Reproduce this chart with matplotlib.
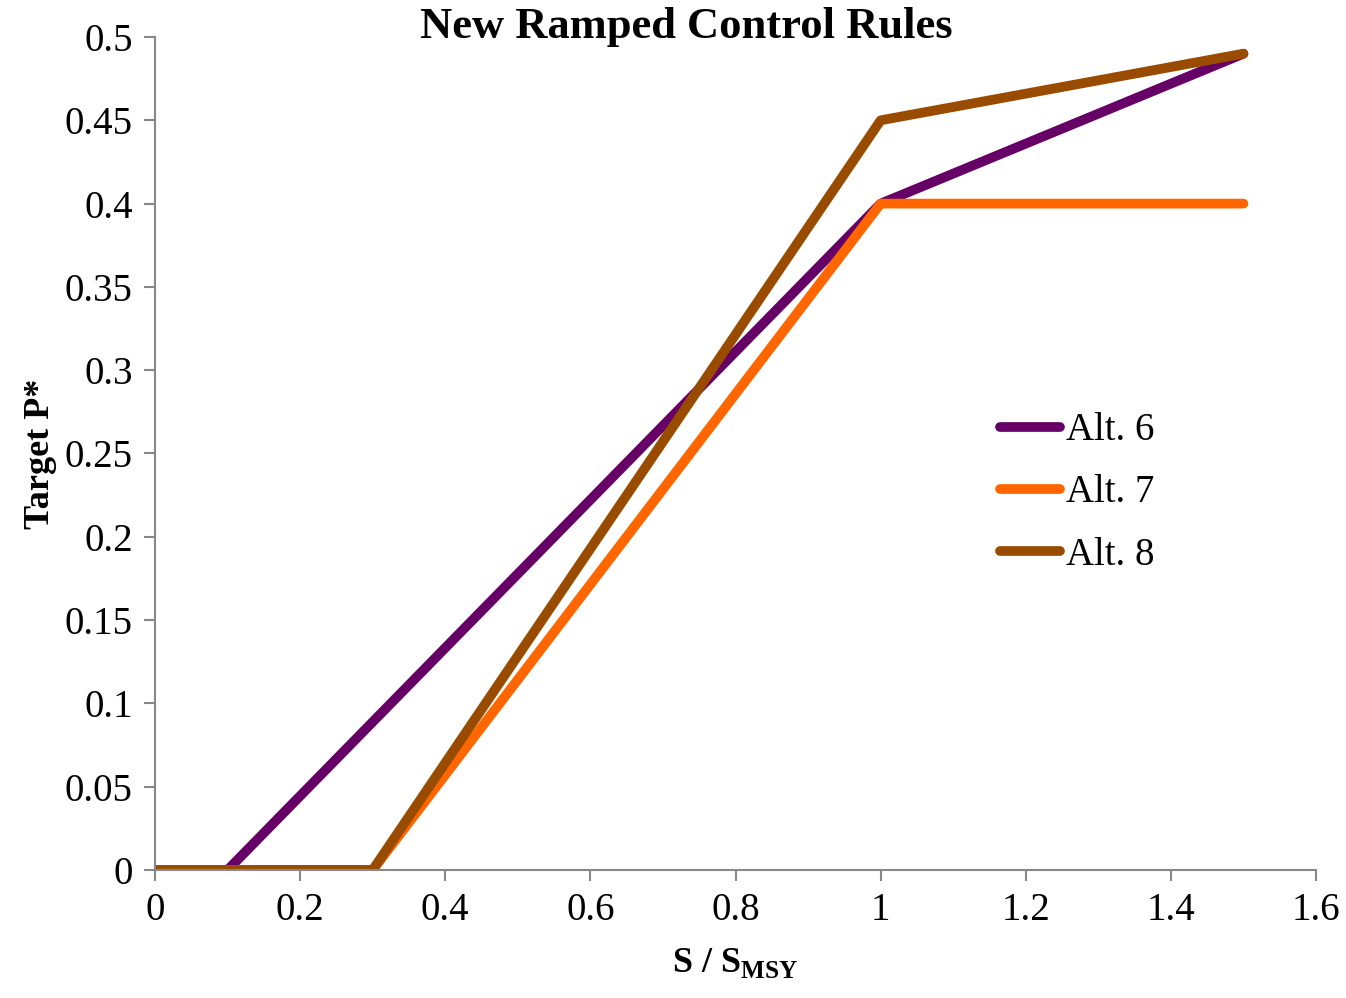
import matplotlib
matplotlib.use('Agg')
import matplotlib.pyplot as plt

plt.rcParams['font.family'] = ['Liberation Serif', 'DejaVu Serif']
plt.rcParams['mathtext.fontset'] = 'custom'
plt.rcParams['mathtext.rm'] = 'Liberation Serif'
plt.rcParams['mathtext.bf'] = 'Liberation Serif:bold'

# data
x6 = [0, 0.1, 1.0, 1.5]
y6 = [0, 0, 0.40, 0.49]
x7 = [0, 0.3, 1.0, 1.5]
y7 = [0, 0, 0.40, 0.40]
x8 = [0, 0.3, 1.0, 1.5]
y8 = [0, 0, 0.45, 0.49]
labels = ['Alt. 6', 'Alt. 7', 'Alt. 8']
colors = ['#660066', '#FF6600', '#994C00']

fig = plt.figure(figsize=(13.46, 9.98), dpi=100)
ax = fig.add_axes([0.1152, 0.1283, 0.8625, 0.8346])
lw = 7.0
ax.plot(x6, y6, color=colors[0], lw=lw, label=labels[0], solid_capstyle='round')
ax.plot(x7, y7, color=colors[1], lw=lw, label=labels[1], solid_capstyle='round')
ax.plot(x8, y8, color=colors[2], lw=lw, label=labels[2], solid_capstyle='round')

ax.set_xlim(0, 1.6)
ax.set_ylim(0, 0.5)
ax.set_xticks([0, 0.2, 0.4, 0.6, 0.8, 1.0, 1.2, 1.4, 1.6])
ax.set_xticklabels(['0', '0.2', '0.4', '0.6', '0.8', '1', '1.2', '1.4', '1.6'])
ax.set_yticks([0, 0.05, 0.1, 0.15, 0.2, 0.25, 0.3, 0.35, 0.4, 0.45, 0.5])
ax.set_yticklabels(['0', '0.05', '0.1', '0.15', '0.2', '0.25', '0.3', '0.35', '0.4', '0.45', '0.5'])
for s in ['top', 'right']:
    ax.spines[s].set_visible(False)
for s in ['left', 'bottom']:
    ax.spines[s].set_color('#888888')
    ax.spines[s].set_linewidth(1.5)
ax.tick_params(direction='out', length=8, width=1.5, color='#888888', labelsize=28, pad=8)

fig.text(0.510, 0.973, 'New Ramped Control Rules', fontsize=32, fontweight='bold',
         ha='center', va='center')
ax.set_ylabel('Target P*', fontsize=26, fontweight='bold', labelpad=6)
ax.set_xlabel(r'S / S$_{\mathbf{MSY}}$', fontsize=26, fontweight='bold', labelpad=12)

ax.legend(loc='center left', bbox_to_anchor=(0.728, 0.4526), frameon=False, fontsize=28,
          handlelength=1.55, handletextpad=0.13, labelspacing=0.65,
          borderpad=0, borderaxespad=0)

fig.savefig('out.png', dpi=100)
